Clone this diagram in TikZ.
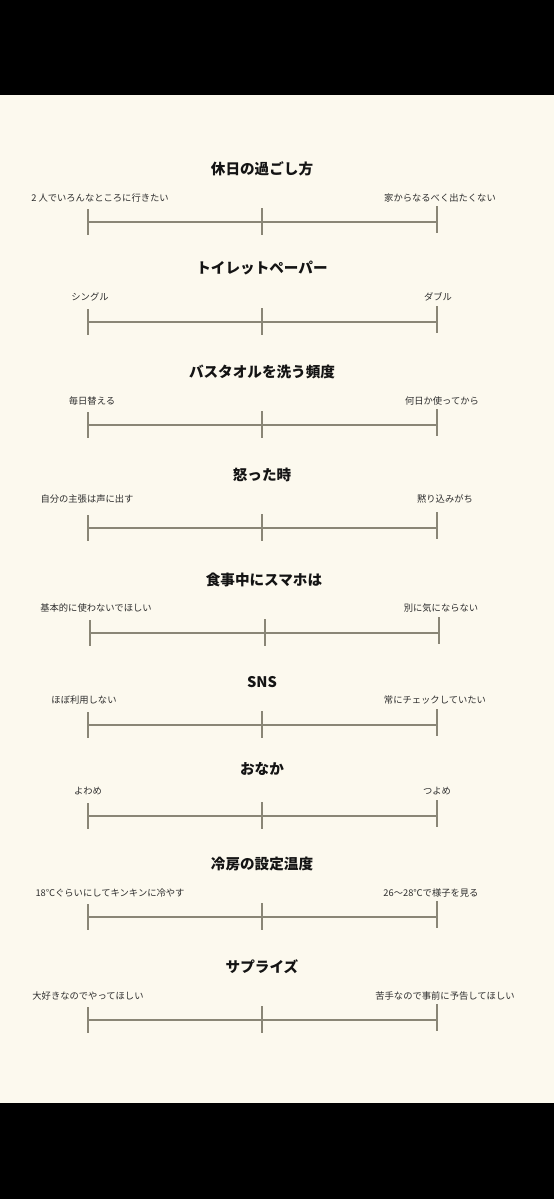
\documentclass[tikz,border=0pt]{standalone}
\usepackage{fontspec}
\newfontfamily\jpfont{Noto Sans CJK JP}
\definecolor{paperBg}{HTML}{FCF9EE}
\definecolor{scaleGray}{HTML}{8A8676}
\definecolor{labelGray}{HTML}{2E2E2E}
\begin{document}
\begin{tikzpicture}[x=1pt,y=-1pt,
    scaleLine/.style={draw=scaleGray,line width=1.1pt},
    scaleTick/.style={draw=scaleGray,line width=1.1pt},
    scaleTitle/.style={font=\jpfont\bfseries\fontsize{14.6}{16}\selectfont,text=black!92,inner sep=0pt},
    scaleEnd/.style={font=\jpfont\fontsize{9.3}{11}\selectfont,text=labelGray,inner sep=0pt},
]
\useasboundingbox (0,0) rectangle (554,1199);
% page and black bars
\fill[paperBg] (0,0) rectangle (554,1199);
\fill[black] (0,0) rectangle (554,95);
\fill[black] (0,1103) rectangle (554,1199);
% 1
\node[scaleTitle] (t1) at (262,169) {休日の過ごし方};
\node[scaleEnd] (l1) at (100,198) {2 人でいろんなところに行きたい};
\node[scaleEnd] (r1) at (440,198) {家からなるべく出たくない};
\coordinate (a1) at (88,222); \coordinate (m1) at (262,222); \coordinate (b1) at (437,222);
\draw[scaleLine] (a1) -- (b1);
\draw[scaleTick] (a1) ++(0,-13) -- ++(0,26);
\draw[scaleTick] (m1) ++(0,-14) -- ++(0,27);
\draw[scaleTick] (b1) ++(0,-16) -- ++(0,27);
% 2
\node[scaleTitle] (t2) at (262,268) {トイレットペーパー};
\node[scaleEnd] (l2) at (90,297) {シングル};
\node[scaleEnd] (r2) at (438,297) {ダブル};
\coordinate (a2) at (88,322); \coordinate (m2) at (262,322); \coordinate (b2) at (437,322);
\draw[scaleLine] (a2) -- (b2);
\draw[scaleTick] (a2) ++(0,-13) -- ++(0,26);
\draw[scaleTick] (m2) ++(0,-14) -- ++(0,27);
\draw[scaleTick] (b2) ++(0,-16) -- ++(0,27);
% 3
\node[scaleTitle] (t3) at (262,372) {バスタオルを洗う頻度};
\node[scaleEnd] (l3) at (92,401) {毎日替える};
\node[scaleEnd] (r3) at (442,401) {何日か使ってから};
\coordinate (a3) at (88,425); \coordinate (m3) at (262,425); \coordinate (b3) at (437,425);
\draw[scaleLine] (a3) -- (b3);
\draw[scaleTick] (a3) ++(0,-13) -- ++(0,26);
\draw[scaleTick] (m3) ++(0,-14) -- ++(0,27);
\draw[scaleTick] (b3) ++(0,-16) -- ++(0,27);
% 4
\node[scaleTitle] (t4) at (262,475) {怒った時};
\node[scaleEnd] (l4) at (87,499) {自分の主張は声に出す};
\node[scaleEnd] (r4) at (445,499) {黙り込みがち};
\coordinate (a4) at (88,528); \coordinate (m4) at (262,528); \coordinate (b4) at (437,528);
\draw[scaleLine] (a4) -- (b4);
\draw[scaleTick] (a4) ++(0,-13) -- ++(0,26);
\draw[scaleTick] (m4) ++(0,-14) -- ++(0,27);
\draw[scaleTick] (b4) ++(0,-16) -- ++(0,27);
% 5
\node[scaleTitle] (t5) at (264,580) {食事中にスマホは};
\node[scaleEnd] (l5) at (96,608) {基本的に使わないでほしい};
\node[scaleEnd] (r5) at (441,608) {別に気にならない};
\coordinate (a5) at (90,633); \coordinate (m5) at (265,633); \coordinate (b5) at (439,633);
\draw[scaleLine] (a5) -- (b5);
\draw[scaleTick] (a5) ++(0,-13) -- ++(0,26);
\draw[scaleTick] (m5) ++(0,-14) -- ++(0,27);
\draw[scaleTick] (b5) ++(0,-16) -- ++(0,27);
% 6
\node[scaleTitle] (t6) at (262,682) {SNS};
\node[scaleEnd] (l6) at (84,700) {ほぼ利用しない};
\node[scaleEnd] (r6) at (435,700) {常にチェックしていたい};
\coordinate (a6) at (88,725); \coordinate (m6) at (262,725); \coordinate (b6) at (437,725);
\draw[scaleLine] (a6) -- (b6);
\draw[scaleTick] (a6) ++(0,-13) -- ++(0,26);
\draw[scaleTick] (m6) ++(0,-14) -- ++(0,27);
\draw[scaleTick] (b6) ++(0,-16) -- ++(0,27);
% 7
\node[scaleTitle] (t7) at (262,769) {おなか};
\node[scaleEnd] (l7) at (88,791) {よわめ};
\node[scaleEnd] (r7) at (437,791) {つよめ};
\coordinate (a7) at (88,816); \coordinate (m7) at (262,816); \coordinate (b7) at (437,816);
\draw[scaleLine] (a7) -- (b7);
\draw[scaleTick] (a7) ++(0,-13) -- ++(0,26);
\draw[scaleTick] (m7) ++(0,-14) -- ++(0,27);
\draw[scaleTick] (b7) ++(0,-16) -- ++(0,27);
% 8
\node[scaleTitle] (t8) at (262,864) {冷房の設定温度};
\node[scaleEnd] (l8) at (110,893) {18℃ぐらいにしてキンキンに冷やす};
\node[scaleEnd] (r8) at (431,893) {26〜28℃で様子を見る};
\coordinate (a8) at (88,917); \coordinate (m8) at (262,917); \coordinate (b8) at (437,917);
\draw[scaleLine] (a8) -- (b8);
\draw[scaleTick] (a8) ++(0,-13) -- ++(0,26);
\draw[scaleTick] (m8) ++(0,-14) -- ++(0,27);
\draw[scaleTick] (b8) ++(0,-16) -- ++(0,27);
% 9
\node[scaleTitle] (t9) at (262,967) {サプライズ};
\node[scaleEnd] (l9) at (88,996) {大好きなのでやってほしい};
\node[scaleEnd] (r9) at (445,996) {苦手なので事前に予告してほしい};
\coordinate (a9) at (88,1020); \coordinate (m9) at (262,1020); \coordinate (b9) at (437,1020);
\draw[scaleLine] (a9) -- (b9);
\draw[scaleTick] (a9) ++(0,-13) -- ++(0,26);
\draw[scaleTick] (m9) ++(0,-14) -- ++(0,27);
\draw[scaleTick] (b9) ++(0,-16) -- ++(0,27);
\end{tikzpicture}
\end{document}
